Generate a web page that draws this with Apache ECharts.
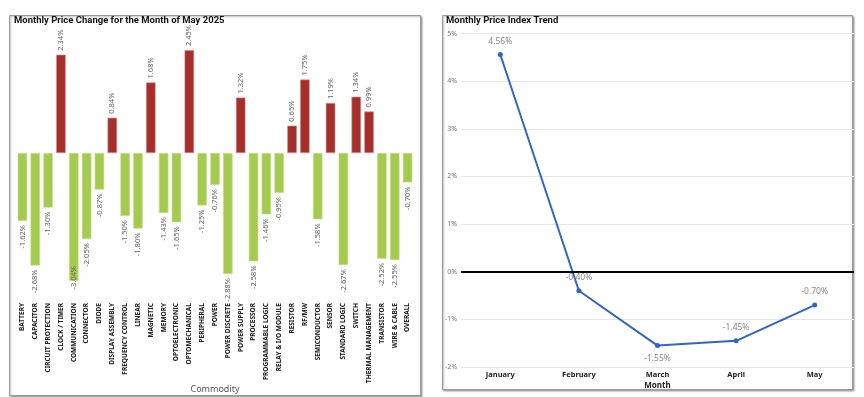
<!DOCTYPE html>
<html>
<head>
<meta charset="utf-8">
<script src="https://cdn.jsdelivr.net/npm/echarts@6/dist/echarts.min.js"></script>
<style>
  html, body { margin: 0; padding: 0; background: #fff; }
  #main { width: 864px; height: 397px; }
</style>
</head>
<body>
<div id="main"></div>
<script>
// 左图: 各品类五月价格变化
var commodities = ['BATTERY', 'CAPACITOR', 'CIRCUIT PROTECTION', 'CLOCK / TIMER', 'COMMUNICATION',
    'CONNECTOR', 'DIODE', 'DISPLAY ASSEMBLY', 'FREQUENCY CONTROL', 'LINEAR', 'MAGNETIC', 'MEMORY',
    'OPTOELECTRONIC', 'OPTOMECHANICAL', 'PERIPHERAL', 'POWER', 'POWER DISCRETE', 'POWER SUPPLY',
    'PROCESSOR', 'PROGRAMMABLE LOGIC', 'RELAY & I/O MODULE', 'RESISTOR', 'RF/MW', 'SEMICONDUCTOR',
    'SENSOR', 'STANDARD LOGIC', 'SWITCH', 'THERMAL MANAGEMENT', 'TRANSISTOR', 'WIRE & CABLE', 'OVERALL'];
var mayChange = [-1.62, -2.68, -1.30, 2.34, -3.04, -2.05, -0.87, 0.84, -1.50, -1.80, 1.68, -1.43,
    -1.65, 2.45, -1.25, -0.76, -2.88, 1.32, -2.58, -1.46, -0.95, 0.65, 1.75, -1.58,
    1.19, -2.67, 1.34, 0.99, -2.52, -2.55, -0.70];

// 右图: 月度价格指数趋势
var months = ['January', 'February', 'March', 'April', 'May'];
var indexTrend = [4.56, -0.40, -1.55, -1.45, -0.70];
var trendLabelPos = ['top', 'top', 'bottom', 'top', 'top'];

var labelFont = "'Noto Sans', 'Open Sans', sans-serif";
var titleFont = "Roboto, sans-serif";

var lowest = Math.min.apply(null, mayChange);

var barData = mayChange.map(function (v) {
    var up = v >= 0;
    var item = {
        value: v,
        itemStyle: {
            color: up ? '#A52F2B' : '#A5CA50',
            borderColor: up ? '#DC8A86' : '#C8E08E',
            borderWidth: 0.6
        },
        label: {
            position: up ? 'top' : 'bottom',
            align: up ? 'left' : 'right'
        }
    };
    // 最低的那根没有空间放标签, 压在柱子末端
    if (v === lowest) {
        item.label = { position: 'bottom', align: 'center', distance: -3 };
    }
    return item;
});

var lineData = indexTrend.map(function (v, i) {
    return { value: v, label: { position: trendLabelPos[i] } };
});

var chart = echarts.init(document.getElementById('main'));
var option = {
    animation: false,
    graphic: [
        {
            type: 'rect', z: -1,
            shape: { x: 9.5, y: 15.5, width: 411, height: 380 },
            style: { fill: '#fff', stroke: '#9a9a9a', lineWidth: 1,
                shadowBlur: 2, shadowOffsetX: 1, shadowOffsetY: 1, shadowColor: 'rgba(0,0,0,0.35)' }
        },
        {
            type: 'rect', z: -1,
            shape: { x: 442.5, y: 15.5, width: 410, height: 374 },
            style: { fill: '#fff', stroke: '#9a9a9a', lineWidth: 1,
                shadowBlur: 2, shadowOffsetX: 1, shadowOffsetY: 1, shadowColor: 'rgba(0,0,0,0.35)' }
        }
    ],
    title: [
        {
            text: 'Monthly Price Change for the Month of May 2025',
            left: 12, top: 14, padding: [2, 2],
            textStyle: { fontSize: 9.5, fontWeight: 'bold', color: '#111', fontFamily: titleFont }
        },
        {
            text: 'Monthly Price Index Trend',
            left: 444, top: 14, padding: [2, 2],
            textStyle: { fontSize: 9.5, fontWeight: 'bold', color: '#111', fontFamily: titleFont }
        }
    ],
    grid: [
        { left: 16, right: 450, top: 27, bottom: 97, outerBoundsMode: 'none', containLabel: false },
        { left: 461, right: 10, top: 33.5, bottom: 30, outerBoundsMode: 'none', containLabel: false }
    ],
    xAxis: [
        {
            type: 'category',
            gridIndex: 0,
            data: commodities,
            name: 'Commodity',
            nameLocation: 'middle',
            nameGap: 85,
            nameMoveOverlap: false,
            nameTextStyle: { fontSize: 9, color: '#555', fontFamily: labelFont },
            axisLine: { show: false, onZero: false },
            axisTick: { show: false },
            axisLabel: {
                interval: 0, rotate: 90, margin: 3,
                fontSize: 6.5, fontWeight: 'bold', color: '#222', fontFamily: labelFont
            }
        },
        {
            type: 'category',
            gridIndex: 1,
            data: months,
            name: 'Month',
            nameLocation: 'middle',
            nameGap: 15,
            nameMoveOverlap: false,
            nameTextStyle: { fontSize: 8, fontWeight: 'bold', color: '#222', fontFamily: labelFont },
            axisLine: { show: false, onZero: false },
            axisTick: { show: false },
            axisLabel: { margin: 4, fontSize: 7.5, fontWeight: 'bold', color: '#222', fontFamily: labelFont }
        }
    ],
    yAxis: [
        {
            type: 'value',
            gridIndex: 0,
            min: -3.5, max: 3,
            show: false,
            splitLine: { show: false }
        },
        {
            type: 'value',
            gridIndex: 1,
            min: -2, max: 5, interval: 1,
            axisLine: { show: false },
            axisTick: { show: false },
            axisLabel: { formatter: '{value}%', fontSize: 7, color: '#777', margin: 4, fontFamily: labelFont },
            splitLine: { lineStyle: { color: '#e6e6e6', width: 1 } }
        }
    ],
    series: [
        {
            type: 'bar',
            xAxisIndex: 0,
            yAxisIndex: 0,
            data: barData,
            barCategoryGap: '26%',
            label: {
                show: true,
                rotate: 90,
                verticalAlign: 'middle',
                distance: 4,
                fontSize: 7.5,
                color: '#666',
                fontFamily: labelFont,
                formatter: function (p) { return p.value.toFixed(2) + '%'; }
            }
        },
        {
            type: 'line',
            xAxisIndex: 1,
            yAxisIndex: 1,
            data: lineData,
            symbol: 'circle',
            symbolSize: 5,
            lineStyle: { color: '#2D66C3', width: 2 },
            itemStyle: { color: '#2D66C3' },
            label: {
                show: true,
                distance: 6,
                fontSize: 8.5,
                color: '#888',
                fontFamily: labelFont,
                formatter: function (p) { return p.value.toFixed(2) + '%'; }
            },
            markLine: {
                silent: true,
                symbol: 'none',
                label: { show: false },
                lineStyle: { color: '#000', width: 2, type: 'solid' },
                data: [{ yAxis: 0 }]
            }
        }
    ]
};
chart.setOption(option);
</script>
</body>
</html>
